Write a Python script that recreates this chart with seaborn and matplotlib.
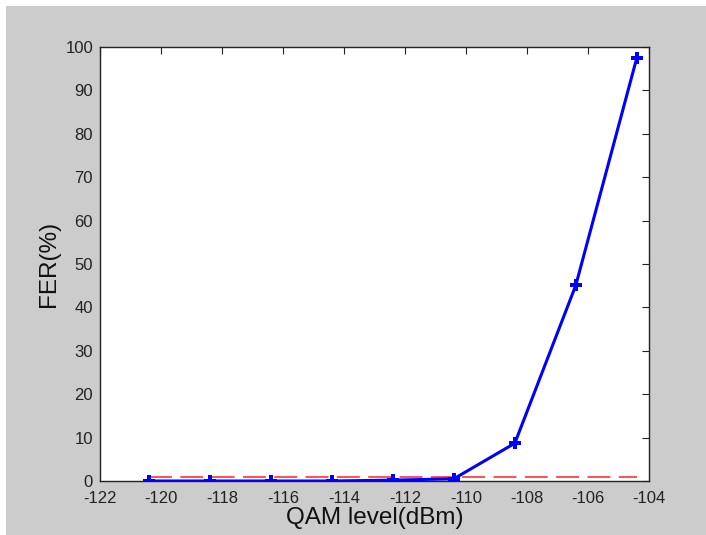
import matplotlib
matplotlib.use("Agg")
import matplotlib.pyplot as plt
from matplotlib.patches import Rectangle
import seaborn as sns
import pandas as pd

# Data
qam_level = [-120.4, -118.4, -116.4, -114.4, -112.4, -110.4, -108.4, -106.4, -104.4]
fer = [0.0, 0.0, 0.0, 0.0, 0.2, 0.5, 8.7, 45.1, 97.5]
threshold = 1.0
x_ticks = [-122, -120, -118, -116, -114, -112, -110, -108, -106, -104]
y_ticks = [0, 10, 20, 30, 40, 50, 60, 70, 80, 90, 100]

sns.set_theme(style="white")
plt.rcParams['font.family'] = ['Liberation Sans', 'DejaVu Sans']

df = pd.DataFrame({"qam": qam_level, "fer": fer})
df_thr = pd.DataFrame({"qam": [qam_level[0], qam_level[-1]], "fer": [threshold, threshold]})

fig = plt.figure(figsize=(7.06, 5.35), dpi=100, facecolor="#cccccc")
# white strips at top/left edges
fig.patches.append(Rectangle((0, 1 - 6 / 535), 1, 6 / 535, transform=fig.transFigure,
                             facecolor="white", edgecolor="none", zorder=0))
fig.patches.append(Rectangle((0, 0), 6 / 706, 1, transform=fig.transFigure,
                             facecolor="white", edgecolor="none", zorder=0))

ax = fig.add_axes([100 / 706, (535 - 481) / 535, 549 / 706, 434 / 535])
ax.set_facecolor("white")

sns.lineplot(data=df_thr, x="qam", y="fer", ax=ax, color="#ff2020", linewidth=1.1,
             dashes=False, zorder=2)
ax.lines[-1].set_dashes((15, 5.5))
sns.lineplot(data=df, x="qam", y="fer", ax=ax, color="#0000ff", linewidth=2.2,
             marker="P", markersize=9, markeredgewidth=0, zorder=3)

ax.set_xlim(-122, -104)
ax.set_ylim(0, 100)
ax.set_xticks(x_ticks)
ax.set_yticks(y_ticks)
ax.set_xticklabels([str(t) for t in x_ticks])
ax.set_yticklabels([str(t) for t in y_ticks])
ax.tick_params(axis="both", direction="in", length=5, width=0.8, colors="#222222",
               labelsize=12, top=True, right=True, labelcolor="#222222")
ax.tick_params(axis="x", pad=7)
ax.tick_params(axis="y", pad=5)
for s in ax.spines.values():
    s.set_visible(True)
    s.set_color("#222222")
    s.set_linewidth(1.0)

ax.set_xlabel("QAM level(dBm)", fontsize=17.5, color="#111111", labelpad=1)
ax.set_ylabel("FER(%)", fontsize=17.5, color="#111111", labelpad=4)
ax.grid(False)

fig.savefig("out.png", dpi=100, facecolor=fig.get_facecolor())
